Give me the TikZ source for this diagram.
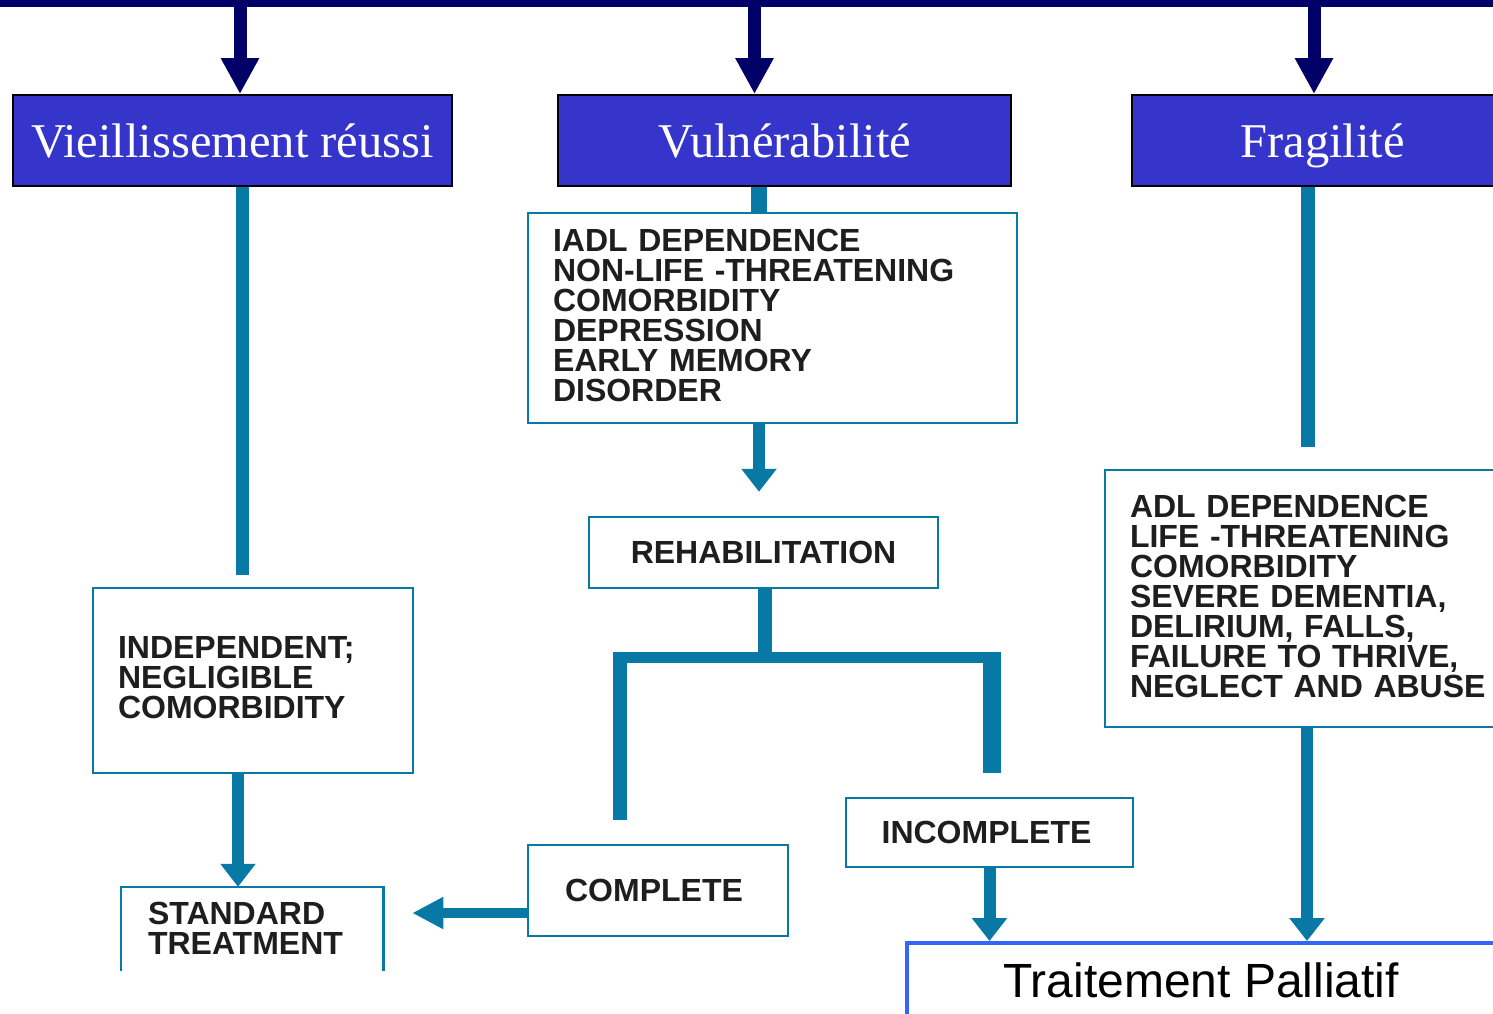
\documentclass[tikz,border=0pt]{standalone}
\usepackage{fontspec}
\setmainfont{Liberation Serif}
\setsansfont{Liberation Sans}
\usetikzlibrary{arrows.meta}
\definecolor{navy}{HTML}{000066}
\definecolor{hdrblue}{HTML}{3535CC}
\definecolor{tealc}{HTML}{0878A4}
\definecolor{palblue}{HTML}{3366FF}
\definecolor{txtgray}{HTML}{1E1E1E}
\newcommand{\lowstrut}[1]{\rule[-#1]{0pt}{0pt}}
\begin{document}
\begin{tikzpicture}[x=1pt,y=-1pt,
  hdr/.style={draw=black, line width=2pt, fill=hdrblue, text=white,
    font=\fontsize{48.5}{50}\selectfont, inner sep=0pt, text height=33pt, text depth=0pt},
  tbox/.style={draw=tealc, line width=2.5pt, fill=white, text=txtgray,
    font=\sffamily\bfseries\fontsize{32}{30}\selectfont, inner sep=0pt},
  ltbox/.style={tbox, align=left, inner xsep=25pt},
  navyarrow/.style={draw=navy, line width=13pt, -{Triangle[width=36pt,length=36pt]}},
  tealarrow/.style={draw=tealc, line width=12pt, -{Triangle[width=34pt,length=23pt]}},
  tealbar/.style={draw=tealc, line width=#1},
]
\useasboundingbox (0,0) rectangle (1493,1013);
\clip (0,0) rectangle (1493,1013);
\fill[white] (0,0) rectangle (1493,1013);

% top bar
\node[fill=navy, minimum width=1500pt, minimum height=7pt, inner sep=0pt, anchor=north west] (topbar) at (0,0) {};

% headers
\node[hdr, minimum width=439pt, minimum height=91pt] (h1) at (232.5,140.5) {Vieillissement réussi};
\node[hdr, minimum width=453pt, minimum height=91pt] (h2) at (784.5,140.5) {Vulnérabilité};
\node[hdr, minimum width=381pt, minimum height=91pt] (h3) at (1322.5,140.5) {Fragilité};

% column coordinates
\coordinate (a1) at (240,0);
\coordinate (a2) at (754.5,0);
\coordinate (a3) at (1314,0);
\coordinate (l1) at (242,0);
\coordinate (l1end) at (242,575);
\coordinate (v2) at (759,0);
\coordinate (f3) at (1308,0);
\coordinate (f3end) at (1308,447);
\coordinate (x238) at (238,0);
\coordinate (p3) at (1307,0);

% navy arrows
\draw[navyarrow] (topbar.south -| a1) -- (h1.north -| a1);
\draw[navyarrow] (topbar.south -| a2) -- (h2.north -| a2);
\draw[navyarrow] (topbar.south -| a3) -- (h3.north -| a3);

% lower nodes
\node[ltbox, text width=270pt, minimum height=185pt] (indep) at (253,680.5)
  {INDEPENDENT;\\NEGLIGIBLE\\COMORBIDITY\lowstrut{6pt}};
\node[ltbox, draw=none, fill=none, inner xsep=26pt, text width=208pt, minimum height=82pt] (std) at (252,929)
  {STANDARD\\TREATMENT\lowstrut{2pt}};
\node[ltbox, text width=439pt, minimum height=210pt] (iadl) at (772.5,318)
  {IADL DEPENDENCE\\NON-LIFE -THREATENING\\COMORBIDITY\\DEPRESSION\\EARLY MEMORY\\DISORDER\lowstrut{6pt}};
\node[tbox, minimum width=349pt, minimum height=71pt] (rehab) at (763.5,552.5) {REHABILITATION};
\node[tbox, minimum width=260pt, minimum height=91pt] (complete) at (658,890.5) {\hspace*{-8pt}COMPLETE};
\node[tbox, minimum width=287pt, minimum height=69pt] (incomplete) at (989.5,832.5) {\hspace*{-6pt}INCOMPLETE};
\node[ltbox, text width=360pt, minimum height=257pt] (adl) at (1310,598.5)
  {ADL DEPENDENCE\\LIFE -THREATENING\\COMORBIDITY\\SEVERE DEMENTIA,\\DELIRIUM, FALLS,\\FAILURE TO THRIVE,\\NEGLECT AND ABUSE\lowstrut{4pt}};
\node[draw=palblue, line width=3.5pt, fill=white, minimum width=605pt, minimum height=120pt,
  inner sep=0pt, anchor=north west] (pal) at (905,941) {};
\node[font=\sffamily\fontsize{48}{50}\selectfont, text=black, inner sep=0pt] (paltext) at (1201,980) {Traitement Palliatif};

% standard treatment box: three sides only
\draw[tealc, line width=2.5pt] (std.south west) -- (std.north west) -- (std.north east) -- (std.south east);

% teal connectors from headers
\draw[tealbar=13pt] (h1.south -| l1) -- (l1end);
\draw[tealbar=16pt] (h2.south -| v2) -- (iadl.north -| v2);
\draw[tealbar=14pt] (h3.south -| f3) -- (f3end);

% arrows
\draw[tealarrow, shorten >=24pt] (iadl.south -| v2) -- (rehab.north -| v2);
\draw[tealarrow] (indep.south -| x238) -- (std.north -| x238);
\draw[tealarrow, line width=10pt, -{Triangle[width=30pt,length=31pt]}]
  ([yshift=-22.5pt]complete.west) -- ([xshift=29pt,yshift=16pt]std.east);
\draw[tealarrow] (incomplete.south) -- (incomplete.south |- pal.north);
\draw[tealarrow] (adl.south -| p3) -- (pal.north -| p3);

% rehabilitation tree
\coordinate (tj) at (765,662);
\coordinate (hl) at (619,657);
\coordinate (hr) at (993,657);
\coordinate (cl1) at (620,652);
\coordinate (cl2) at (620,820);
\coordinate (cr1) at (992,652);
\coordinate (cr2) at (992,773);
\draw[tealbar=14pt] (rehab.south -| tj) -- (tj);
\draw[tealbar=11pt] (hl) -- (hr);
\draw[tealbar=14pt] (cl1) -- (cl2);
\draw[tealbar=18pt] (cr1) -- (cr2);
\end{tikzpicture}
\end{document}
